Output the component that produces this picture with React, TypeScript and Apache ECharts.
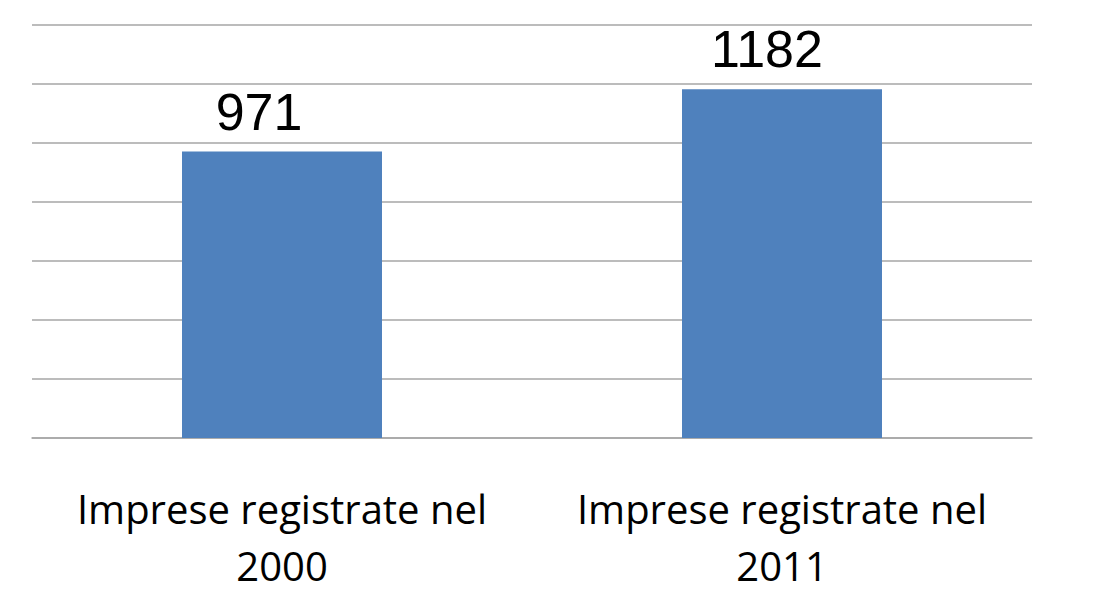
import React, { useEffect, useRef } from "react";
import * as echarts from "echarts";

const categories = ["Imprese registrate nel\n2000", "Imprese registrate nel\n2011"];
const values = [971, 1182];
const valueLabelOffsets = [[-23, 0], [-15, 0]];

export default function App() {
  const ref = useRef<HTMLDivElement>(null);
  useEffect(() => {
    if (!ref.current) return;
    const chart = echarts.init(ref.current, undefined, { renderer: "svg" });
    chart.setOption({
      animation: false,
      backgroundColor: "#ffffff",
      grid: { left: 32, right: 87, top: 25, bottom: 166, containLabel: false },
      xAxis: {
        type: "category",
        data: categories,
        axisLine: { show: true, lineStyle: { color: "#a6a6a6", width: 1.5 } },
        axisTick: { show: false },
        axisLabel: {
          margin: 42,
          fontFamily: "Open Sans",
          fontSize: 40,
          lineHeight: 57,
          color: "#000000",
          interval: 0,
        },
      },
      yAxis: {
        type: "value",
        min: 0,
        max: 1400,
        interval: 200,
        axisLabel: { show: false },
        axisLine: { show: false },
        axisTick: { show: false },
        splitLine: { show: true, lineStyle: { color: "#a6a6a6", width: 1.5 } },
      },
      series: [
        {
          type: "bar",
          data: values.map((v, i) => ({ value: v, label: { offset: valueLabelOffsets[i] } })),
          barWidth: "40%",
          itemStyle: { color: "#4f81bd" },
          label: {
            show: true,
            position: "top",
            distance: 14,
            fontFamily: "Liberation Sans",
            fontSize: 52,
            color: "#000000",
          },
        },
      ],
    });
    return () => chart.dispose();
  }, []);
  return (
    <div
      ref={ref}
      style={{ position: "fixed", left: 0, top: 0, width: 1119, height: 604, background: "#fff" }}
    />
  );
}
